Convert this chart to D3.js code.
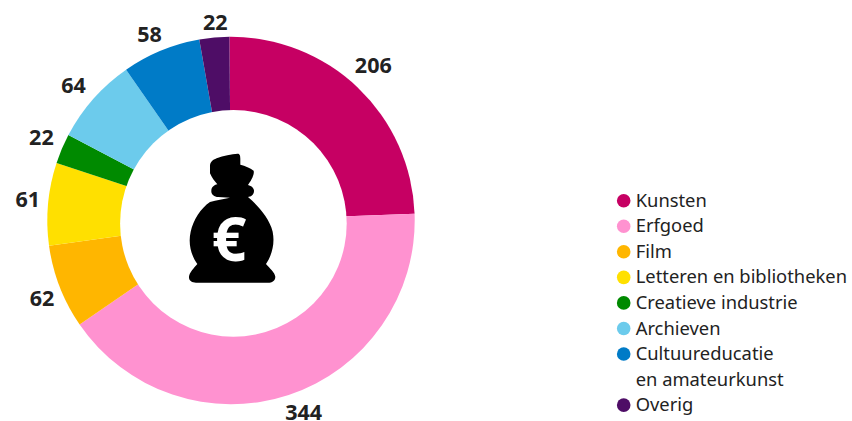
<!DOCTYPE html>
<html>
<head>
<meta charset="utf-8">
<style>
body { margin: 0; background: #fff; }
text { font-family: "Noto Sans", sans-serif; }
.value { font-size: 21.5px; font-weight: 700; fill: #222; text-anchor: middle; }
.legend { font-size: 18.35px; fill: #222; }
</style>
<script src="https://d3js.org/d3.v7.min.js"></script>
</head>
<body>
<script>
var w = 852;
var h = 421;

var categories = ["Kunsten", "Erfgoed", "Film", "Letteren en bibliotheken", "Creatieve industrie", "Archieven", "Cultuureducatie\nen amateurkunst", "Overig"];
var values = [206, 344, 62, 61, 22, 64, 58, 22];
var colors = ["#c60063", "#ff92d0", "#ffb600", "#ffe000", "#008a00", "#6ccbec", "#007bc7", "#4e0d66"];

var cx = 231, cy = 220.5;
var outer = 183.7, labelRadius = 206;
// the hole in the reference is not quite centred on the ring
var holeX = 233.4, holeY = 223.4, holeR = 113.3;
var turn = -0.0087;

// labels were placed by hand in the original, so nudge them off the circle
var labelNudge = [[0, -6], [8, -4], [3, 3], [2, -3], [0, -3], [-3, 1], [-3, 4], [3, 7]];

var svg = d3.select("body").append("svg")
    .attr("width", w)
    .attr("height", h);

var pie = d3.pie().sort(null)
    .startAngle(turn)
    .endAngle(2 * Math.PI + turn)
    .value(function(d){ return d; });
var arcs = pie(values);
var arc = d3.arc().innerRadius(0).outerRadius(outer);
var labelArc = d3.arc().innerRadius(labelRadius).outerRadius(labelRadius);

var donut = svg.append("g").attr("transform", "translate(" + cx + "," + cy + ")");

donut.selectAll("path")
    .data(arcs)
    .enter().append("path")
    .attr("d", arc)
    .attr("fill", function(d, i){ return colors[i]; });

svg.append("circle")
    .attr("cx", holeX)
    .attr("cy", holeY)
    .attr("r", holeR)
    .attr("fill", "#fff");

donut.selectAll("text")
    .data(arcs)
    .enter().append("text")
    .attr("class", "value")
    .attr("x", function(d, i){ return labelArc.centroid(d)[0] + labelNudge[i][0]; })
    .attr("y", function(d, i){ return labelArc.centroid(d)[1] + labelNudge[i][1]; })
    .attr("dy", "0.36em")
    .text(function(d){ return d.value; });

// money bag, outline traced in a 3x box
var bag = svg.append("g").attr("transform", "translate(170,140) scale(0.3333)");
bag.append("path")
    .attr("fill", "#000")
    .attr("d", "M120,78 C120,66 128,60 140,55 C160,47 185,42 203,41 C210,41 211,48 211,56 L211,74 C226,78 240,84 251,92 C253,100 249,115 234,135 C246,138 253,146 252,154 C251,166 242,171 234,171 C264,197 298,235 308,275 C316,315 303,350 288,372 C298,384 315,398 316,410 C316,422 306,428 294,428 L78,428 C66,428 56,422 57,410 C58,398 72,384 82,372 C66,350 53,315 62,275 C70,240 92,205 120,186 C140,180 160,177 180,173 L145,171 C132,171 123,162 124,152 C124,142 132,135 142,133 C134,124 125,112 120,100 Z");
bag.append("text")
    .attr("x", 177)
    .attr("y", 362)
    .attr("text-anchor", "middle")
    .attr("fill", "#fff")
    .attr("font-size", 182)
    .attr("font-weight", 700)
    .text("€");

// legend, Cultuureducatie takes two lines
var legendX = 623.7, legendY = 200.7, lineHeight = 25.55;
var legend = svg.append("g");
var row = 0;
categories.forEach(function(c, i){
    var lines = c.split("\n");
    var y = legendY + row * lineHeight;
    legend.append("circle")
        .attr("cx", legendX)
        .attr("cy", y)
        .attr("r", 6.8)
        .attr("fill", colors[i]);
    lines.forEach(function(l, j){
        legend.append("text")
            .attr("class", "legend")
            .attr("x", legendX + 12)
            .attr("y", y + j * lineHeight)
            .attr("dy", "0.33em")
            .text(l);
    });
    row += lines.length;
});
</script>
</body>
</html>
